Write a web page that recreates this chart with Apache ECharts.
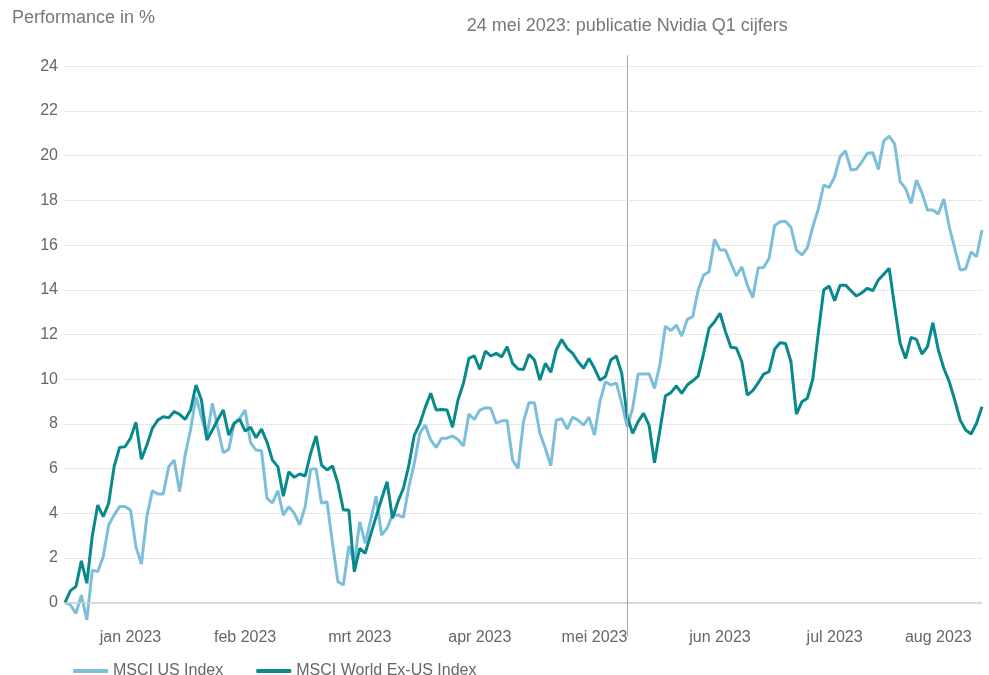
<!DOCTYPE html>
<html>
<head>
<meta charset="utf-8">
<title>MSCI US vs MSCI World Ex-US</title>
<script src="https://cdn.jsdelivr.net/npm/echarts@6/dist/echarts.min.js"></script>
<style>
  html, body { margin: 0; padding: 0; background: #fff; }
  #chart { width: 989px; height: 675px; }
</style>
</head>
<body>
<div id="chart"></div>
<script>
// performance in % sinds 30 dec 2022, één punt per werkdag
const startDate = '2022-12-30';
const dayCount = 169;
const monthLabels = ['jan 2023', 'feb 2023', 'mrt 2023', 'apr 2023', 'mei 2023', 'jun 2023', 'jul 2023', 'aug 2023'];
const eventDate = '2023-05-24';
const eventText = '24 mei 2023: publicatie Nvidia Q1 cijfers';

const usIndex = [
    0, -0.10, -0.48, 0.34, -0.77, 1.46, 1.39, 2.06, 3.48, 3.92,
    4.30, 4.30, 4.15, 2.50, 1.73, 3.85, 5.01, 4.86, 4.86, 6.09,
    6.38, 4.97, 6.61, 7.73, 9.22, 8.32, 7.43, 8.92, 7.80, 6.71,
    6.86, 8.03, 8.25, 8.62, 7.16, 6.83, 6.80, 4.67, 4.47, 5.01,
    3.92, 4.30, 4.00, 3.48, 4.30, 5.97, 6.00, 4.45, 4.52, 2.68,
    0.94, 0.79, 2.54, 1.76, 3.62, 2.66, 3.70, 4.77, 3.03, 3.33,
    3.92, 3.92, 3.82, 5.19, 6.24, 7.58, 7.95, 7.28, 6.95, 7.36,
    7.36, 7.46, 7.30, 7.01, 8.44, 8.20, 8.62, 8.72, 8.70, 8.03,
    8.14, 8.15, 6.38, 6.01, 8.10, 8.95, 8.95, 7.58, 6.91, 6.13,
    8.17, 8.23, 7.77, 8.30, 8.17, 7.95, 8.30, 7.50, 8.99, 9.89,
    9.74, 9.84, 8.92, 7.87, 8.70, 10.23, 10.23, 10.25, 9.59, 10.67,
    12.38, 12.17, 12.42, 11.93, 12.68, 12.80, 13.99, 14.66, 14.81, 16.26,
    15.78, 15.78, 15.19, 14.62, 15.03, 14.21, 13.65, 14.99, 15.00, 15.41,
    16.87, 17.05, 17.07, 16.80, 15.78, 15.56, 15.88, 16.82, 17.60, 18.69,
    18.57, 19.06, 19.96, 20.22, 19.36, 19.40, 19.73, 20.11, 20.13, 19.39,
    20.67, 20.88, 20.52, 18.84, 18.54, 17.87, 18.91, 18.34, 17.57, 17.57,
    17.39, 18.06, 16.82, 15.86, 14.89, 14.93, 15.70, 15.48, 16.68
];

const worldExUs = [
    0, 0.54, 0.72, 1.87, 0.87, 3.00, 4.37, 3.85, 4.45, 6.09,
    6.95, 6.98, 7.36, 8.07, 6.42, 7.06, 7.80, 8.17, 8.32, 8.28,
    8.55, 8.43, 8.20, 8.62, 9.74, 9.07, 7.28, 7.73, 8.20, 8.62,
    7.50, 8.03, 8.20, 7.68, 7.85, 7.38, 7.77, 7.20, 6.38, 6.09,
    4.77, 5.86, 5.61, 5.76, 5.67, 6.68, 7.46, 6.16, 5.94, 6.12,
    5.34, 4.15, 4.15, 1.39, 2.43, 2.21, 3.05, 3.85, 4.64, 5.41,
    3.78, 4.52, 5.12, 6.16, 7.50, 8.00, 8.74, 9.37, 8.62, 8.65,
    8.62, 7.85, 9.07, 9.82, 10.93, 11.04, 10.44, 11.26, 11.04, 11.16,
    11.00, 11.45, 10.71, 10.46, 10.44, 11.11, 10.86, 9.96, 10.71, 10.31,
    11.31, 11.78, 11.38, 11.16, 10.78, 10.49, 10.93, 10.49, 9.96, 10.11,
    10.86, 11.04, 10.26, 8.32, 7.58, 8.10, 8.47, 7.95, 6.26, 7.73,
    9.25, 9.40, 9.70, 9.37, 9.74, 9.93, 10.14, 11.16, 12.28, 12.57,
    12.95, 12.13, 11.43, 11.40, 10.78, 9.29, 9.49, 9.84, 10.23, 10.34,
    11.34, 11.63, 11.60, 10.78, 8.44, 8.99, 9.15, 10.00, 12.05, 13.99,
    14.17, 13.51, 14.21, 14.21, 13.96, 13.72, 13.87, 14.07, 13.96, 14.44,
    14.70, 14.96, 13.24, 11.61, 10.93, 11.87, 11.78, 11.13, 11.45, 12.53,
    11.31, 10.49, 9.89, 9.07, 8.17, 7.73, 7.55, 8.03, 8.77
];

// werkdagen als categorieën
const dates = [];
const d = new Date(startDate + 'T00:00:00Z');
while (dates.length < dayCount) {
    const wd = d.getUTCDay();
    if (wd !== 0 && wd !== 6) dates.push(d.toISOString().slice(0, 10));
    d.setUTCDate(d.getUTCDate() + 1);
}

// maandlabel midden in de maand zetten
const monthSpan = {};
dates.forEach((s, i) => {
    if (!s.startsWith('2023')) return;
    const m = +s.slice(5, 7) - 1;
    if (!monthSpan[m]) monthSpan[m] = [i, i];
    monthSpan[m][1] = i;
});
const labelAt = {};
Object.keys(monthSpan).forEach(m => {
    const [a, b] = monthSpan[m];
    labelAt[Math.round((a + b) / 2)] = monthLabels[m];
});

const font = '"Liberation Sans", Arial, Helvetica, sans-serif';
const chart = echarts.init(document.getElementById('chart'));
chart.setOption({
    animation: false,
    backgroundColor: '#fff',
    textStyle: { fontFamily: font },
    title: {
        text: 'Performance in %',
        left: 12, top: 9, padding: 0,
        textStyle: { color: '#777', fontSize: 18, fontWeight: 'normal', fontFamily: font }
    },
    grid: { left: 65, right: 7, top: 44, bottom: 27.6 },
    legend: {
        left: 68, top: 658,
        icon: 'roundRect', itemWidth: 35, itemHeight: 4, itemGap: 33,
        textStyle: { color: '#666', fontSize: 16 },
        data: ['MSCI US Index', 'MSCI World Ex-US Index']
    },
    xAxis: {
        type: 'category', data: dates, boundaryGap: false, offset: -24,
        axisLine: { show: false, onZero: false },
        axisTick: { show: false },
        splitLine: { show: false },
        axisLabel: {
            color: '#666', fontSize: 16, margin: 6,
            interval: (i) => labelAt[i] !== undefined,
            formatter: (v, i) => labelAt[i] || ''
        }
    },
    yAxis: {
        type: 'value', min: -2, max: 25, interval: 2,
        axisLine: { show: false },
        axisTick: { show: false },
        axisLabel: {
            color: '#666', fontSize: 16, margin: 7,
            formatter: v => (v < 0 || v > 24) ? '' : v
        },
        splitLine: {
            showMinLine: false, showMaxLine: false,
            lineStyle: { color: '#d2d2d2', type: 'dotted', width: 1 }
        }
    },
    series: [
        {
            name: 'MSCI US Index', type: 'line', data: usIndex,
            symbol: 'none', lineStyle: { width: 3, color: '#7dbedb' }, itemStyle: { color: '#7dbedb' },
            markLine: {
                silent: true, symbol: 'none', label: { show: false },
                lineStyle: { color: '#cfcfcf', width: 1.5, type: 'solid' },
                data: [{ yAxis: 0 }]
            }
        },
        {
            name: 'MSCI World Ex-US Index', type: 'line', data: worldExUs,
            symbol: 'none', lineStyle: { width: 3, color: '#08898b' }, itemStyle: { color: '#08898b' },
            markLine: {
                silent: true, symbol: 'none',
                lineStyle: { color: '#aaa', width: 1, type: 'solid' },
                label: {
                    show: true, position: 'end', distance: 20,
                    formatter: eventText, color: '#777', fontSize: 18
                },
                data: [[{ coord: [eventDate, -1.5] }, { coord: [eventDate, 24.5] }]]
            }
        }
    ]
});
</script>
</body>
</html>
